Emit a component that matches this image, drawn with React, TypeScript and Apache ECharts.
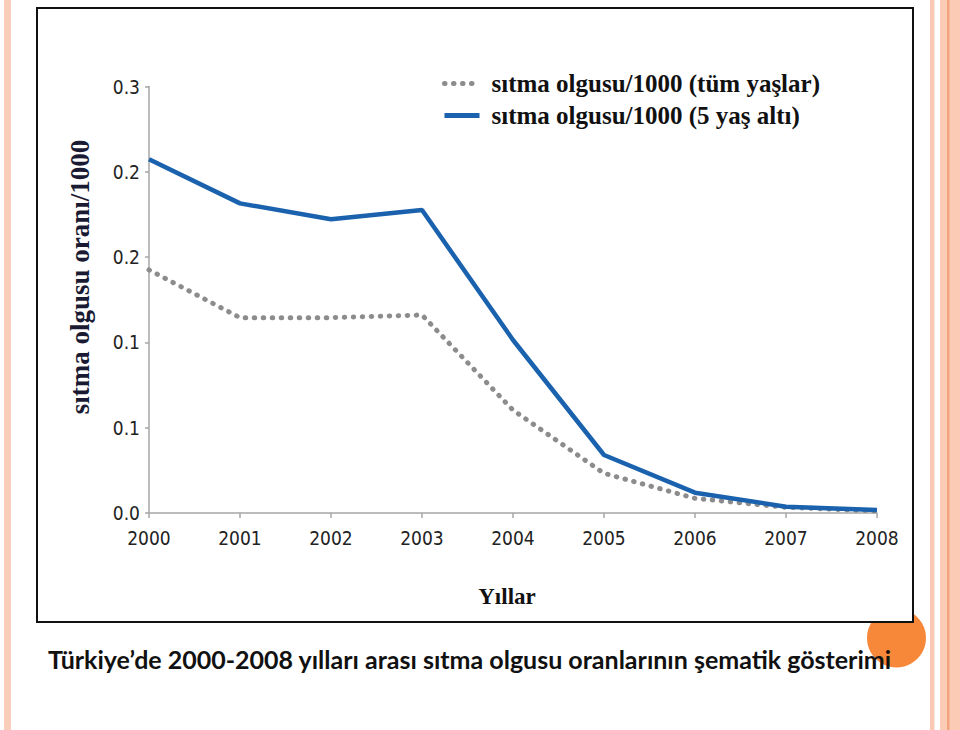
import React, { useEffect, useRef } from "react";
import * as echarts from "echarts";

const years = ["2000", "2001", "2002", "2003", "2004", "2005", "2006", "2007", "2008"];
const allAges = [0.171, 0.1374, 0.1374, 0.1393, 0.0724, 0.0279, 0.0103, 0.004, 0.0014];
const under5 = [0.2488, 0.2178, 0.2066, 0.2131, 0.1217, 0.0408, 0.0143, 0.0044, 0.0021];
const seriesNames = ["sıtma olgusu/1000 (tüm yaşlar)", "sıtma olgusu/1000 (5 yaş altı)"];
const yName = "sıtma olgusu oranı/1000";
const xName = "Yıllar";
const caption = "Türkiye’de 2000-2008 yılları arası sıtma olgusu oranlarının şematik gösterimi";

const narrow = "'Liberation Sans Narrow', 'DejaVu Sans Condensed', 'Arial Narrow', sans-serif";
const serif = "'Liberation Serif', 'Times New Roman', serif";

export default function App() {
  const ref = useRef<HTMLDivElement>(null);
  useEffect(() => {
    if (!ref.current) return;
    const chart = echarts.init(ref.current, null, { renderer: "svg" });
    chart.setOption({
      animation: false,
      backgroundColor: "#ffffff",
      grid: { left: 149, right: 83, top: 86.5, bottom: 217, containLabel: false },
      legend: {
        orient: "vertical",
        left: 437,
        top: 66,
        itemWidth: 35,
        itemHeight: 14,
        itemGap: 7,
        itemStyle: { opacity: 0 },
        lineStyle: { width: 5 },
        textStyle: {
          fontFamily: serif,
          fontWeight: "bold",
          fontSize: 25,
          lineHeight: 25,
          color: "#111",
          padding: [0, 0, 0, 7],
        },
        data: seriesNames,
      },
      xAxis: {
        type: "category",
        data: years,
        boundaryGap: false,
        z: 3,
        axisLine: { lineStyle: { color: "#a6a6a6", width: 1.5 } },
        axisTick: { show: true, length: 5, lineStyle: { color: "#a6a6a6", width: 1.5 } },
        axisLabel: { fontFamily: narrow, fontSize: 19, color: "#222", margin: 15 },
        splitLine: { show: false },
      },
      yAxis: {
        type: "value",
        min: 0,
        max: 0.3,
        interval: 0.06,
        z: 3,
        axisLine: { show: true, lineStyle: { color: "#a6a6a6", width: 1.5 } },
        axisTick: { show: true, length: 4, lineStyle: { color: "#a6a6a6", width: 1.5 } },
        axisLabel: {
          fontFamily: narrow,
          fontSize: 19,
          color: "#222",
          margin: 9,
          formatter: (v: number) => v.toFixed(1),
        },
        splitLine: { show: false },
      },
      series: [
        {
          name: seriesNames[0],
          type: "line",
          data: allAges,
          symbol: "none",
          z: 4,
          itemStyle: { color: "#8c8c8c" },
          lineStyle: { color: "#8c8c8c", width: 5, type: [0.5, 8.5], cap: "round" },
        },
        {
          name: seriesNames[1],
          type: "line",
          data: under5,
          symbol: "none",
          z: 5,
          itemStyle: { color: "#1a62ad" },
          lineStyle: { color: "#1a62ad", width: 4.5 },
        },
      ],
      graphic: [
        { type: "rect", z: 0, shape: { x: 4, y: 0, width: 7, height: 730 }, style: { fill: "#f9cdb9" } },
        { type: "rect", z: 0, shape: { x: 930, y: 0, width: 4.5, height: 730 }, style: { fill: "#f9c9b4" } },
        { type: "rect", z: 0, shape: { x: 940, y: 0, width: 20, height: 730 }, style: { fill: "#fbcbb6" } },
        { type: "rect", z: 0, shape: { x: 947, y: 0, width: 2.5, height: 730 }, style: { fill: "#f2a47f" } },
        { type: "circle", z: 0, shape: { cx: 896.5, cy: 638, r: 29.5 }, style: { fill: "#f7883a" } },
        {
          type: "rect",
          z: 1,
          shape: { x: 37, y: 8, width: 876, height: 614 },
          style: { fill: "#ffffff", stroke: "#111", lineWidth: 2 },
        },
        {
          type: "text",
          z: 6,
          x: 80,
          y: 277,
          rotation: Math.PI / 2,
          style: {
            text: yName,
            fontFamily: serif,
            fontWeight: "bold",
            fontSize: 27,
            fill: "#1a1a33",
            align: "center",
            verticalAlign: "middle",
          },
        },
        {
          type: "text",
          z: 6,
          x: 507,
          y: 596,
          style: {
            text: xName,
            fontFamily: serif,
            fontWeight: "bold",
            fontSize: 23,
            fill: "#111",
            align: "center",
            verticalAlign: "middle",
          },
        },
        {
          type: "text",
          z: 6,
          x: 48,
          y: 659,
          style: {
            text: caption,
            fontFamily: "Lato, 'Open Sans', sans-serif",
            fontWeight: "bold",
            fontSize: 25,
            fill: "#111",
            align: "left",
            verticalAlign: "middle",
          },
        },
      ],
    });
    return () => chart.dispose();
  }, []);
  return (
    <div
      ref={ref}
      style={{ position: "absolute", left: 0, top: 0, width: 960, height: 730 }}
    />
  );
}
